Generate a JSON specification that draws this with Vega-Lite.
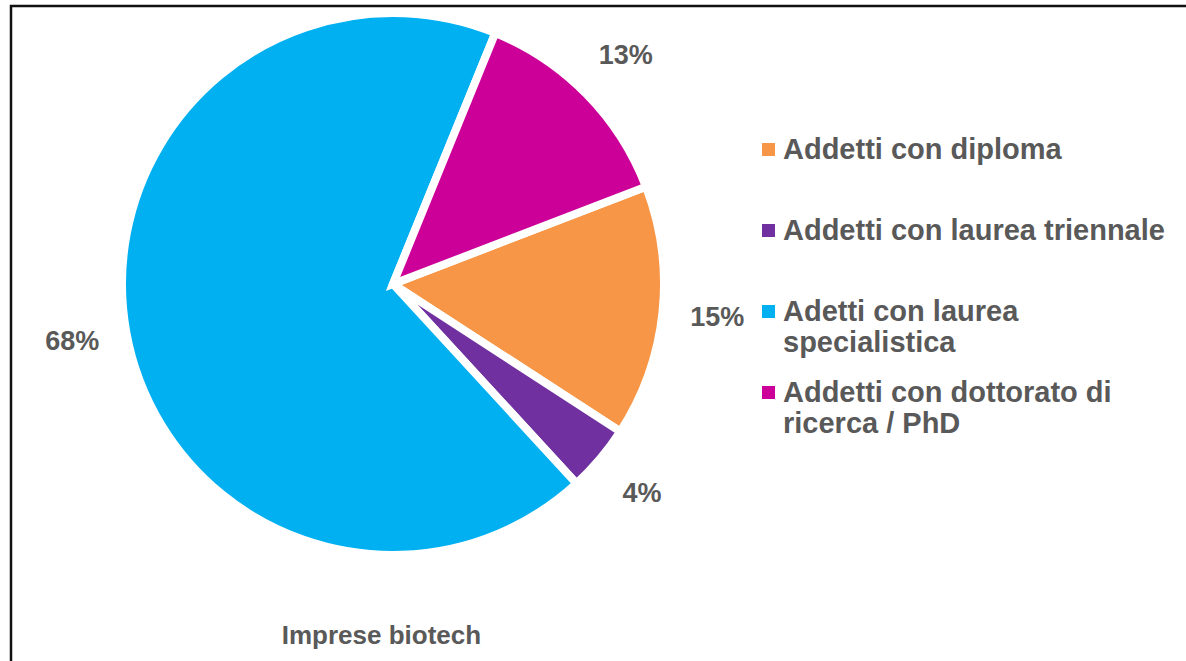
{
  "$schema": "https://vega.github.io/schema/vega-lite/v6.json",
  "autosize": "none",
  "width": 1200,
  "height": 680,
  "padding": {"left": 11, "top": 6, "right": 0, "bottom": 0},
  "background": "white",
  "data": {
    "values": [
      {"cat": "Addetti con diploma", "pct": 0.15, "ord": 1},
      {"cat": "Addetti con laurea triennale", "pct": 0.04, "ord": 2},
      {"cat": "Adetti con laurea|specialistica", "pct": 0.68, "ord": 3},
      {"cat": "Addetti con dottorato di|ricerca / PhD", "pct": 0.13, "ord": 4}
    ]
  },
  "title": {
    "text": "Imprese biotech",
    "orient": "bottom",
    "anchor": "start",
    "dx": 272,
    "offset": -64,
    "font": "Liberation Sans",
    "fontSize": 26,
    "fontWeight": "bold",
    "color": "#595959"
  },
  "layer": [
    {
      "data": {"values": [{"frame": 1}]},
      "mark": {"type": "rect", "fill": null, "stroke": "#111111", "strokeWidth": 2.5},
      "encoding": {
        "x": {"value": 0},
        "x2": {"value": "width"},
        "y": {"value": 0},
        "y2": {"value": "height"}
      }
    },
    {
      "mark": {"type": "arc", "radius": 271, "x": 382, "y": 278, "stroke": "white", "strokeWidth": 8, "strokeJoin": "miter"},
      "encoding": {
        "theta": {"field": "pct", "type": "quantitative", "stack": true, "scale": {"range": [1.204, 7.487]}},
        "order": {"field": "ord", "type": "ordinal"},
        "color": {
          "field": "cat",
          "type": "nominal",
          "sort": ["Addetti con diploma", "Addetti con laurea triennale", "Adetti con laurea|specialistica", "Addetti con dottorato di|ricerca / PhD"],
          "scale": {"range": ["#F79646", "#7030A0", "#00B0F0", "#CC0099"]},
          "legend": {
            "title": null,
            "orient": "none",
            "legendX": 743,
            "legendY": 129,
            "gridAlign": "all",
            "symbolType": "square",
            "symbolSize": 169,
            "symbolStrokeWidth": 0,
            "labelOffset": 0,
            "labelFont": "Liberation Sans",
            "labelFontSize": 29,
            "labelFontWeight": "bold",
            "labelColor": "#595959",
            "labelLimit": 500,
            "labelLineHeight": 34,
            "rowPadding": 20,
            "labelExpr": "split(datum.label, '|')"
          }
        }
      }
    },
    {
      "mark": {"type": "text", "radius": 326, "x": 382, "y": 278, "font": "Liberation Sans", "fontSize": 27, "fontWeight": "bold", "fill": "#595959"},
      "encoding": {
        "theta": {"field": "pct", "type": "quantitative", "stack": true, "scale": {"range": [1.204, 7.487]}},
        "order": {"field": "ord", "type": "ordinal"},
        "text": {"field": "pct", "type": "quantitative", "format": ".0%"},
        "detail": {"field": "cat", "type": "nominal"}
      }
    }
  ]
}
